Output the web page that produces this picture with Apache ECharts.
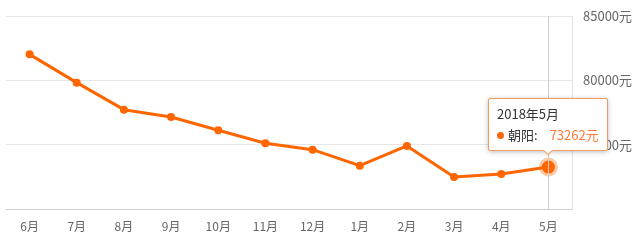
<!DOCTYPE html>
<html>
<head>
<meta charset="utf-8">
<script src="https://cdn.jsdelivr.net/npm/echarts@6/dist/echarts.min.js"></script>
<style>
html,body{margin:0;padding:0;background:#fff;}
#chart{width:640px;height:240px;}
</style>
</head>
<body>
<div id="chart"></div>
<script>
const categories = ['6月','7月','8月','9月','10月','11月','12月','1月','2月','3月','4月','5月'];
const fullDates = ['2017年6月','2017年7月','2017年8月','2017年9月','2017年10月','2017年11月','2017年12月','2018年1月','2018年2月','2018年3月','2018年4月','2018年5月'];
const seriesName = '朝阳';
const prices = [82020, 79820, 77720, 77150, 76120, 75110, 74610, 73370, 74900, 72490, 72720, 73262];
const yTicks = [70000, 75000, 80000, 85000];
const activeIndex = 11;

const mainColor = '#ff6600';
const chart = echarts.init(document.getElementById('chart'), null, {renderer: 'canvas'});
const font = '"Noto Sans CJK SC", "Noto Sans", sans-serif';

const seriesData = prices.map((v, i) => i === activeIndex ? {
  value: v,
  symbolSize: 13,
  itemStyle: {color: mainColor, borderColor: 'rgba(255,102,0,0.35)', borderWidth: 6}
} : v);

chart.setOption({
  animation: false,
  textStyle: {fontFamily: font},
  grid: {left: 6, right: 68, top: 16, bottom: 31},
  tooltip: {
    trigger: 'item',
    triggerOn: 'none',
    alwaysShowContent: true,
    position: 'top',
    backgroundColor: '#fff',
    borderColor: '#f39a5e',
    borderWidth: 1,
    padding: [5, 8, 5, 8],
    extraCssText: 'box-shadow: 0 1px 5px rgba(0,0,0,0.25); border-radius: 2px; margin-top: 3px;',
    textStyle: {fontFamily: font, fontSize: 13, color: '#333', lineHeight: 20},
    formatter: function (p) {
      return '<div style="line-height:20px">' + fullDates[p.dataIndex] + '</div>' +
        '<div style="line-height:21px"><span style="display:inline-block;width:7px;height:7px;border-radius:50%;background:' + mainColor + ';margin-right:4px;vertical-align:1px"></span>' +
        p.seriesName + ':<span style="margin-left:12px;color:#ff7b3a">' + p.value + '元</span></div>';
    }
  },
  xAxis: {
    type: 'category',
    data: categories,
    boundaryGap: true,
    axisLine: {lineStyle: {color: '#d0d0d0', width: 1}},
    axisTick: {alignWithLabel: true, length: 4, lineStyle: {color: '#d0d0d0'}},
    axisLabel: {color: '#666', fontSize: 12, margin: 11, fontFamily: font},
    splitLine: {show: false}
  },
  yAxis: {
    type: 'value',
    position: 'right',
    min: yTicks[0],
    max: yTicks[yTicks.length - 1],
    interval: yTicks[1] - yTicks[0],
    axisLine: {show: true, lineStyle: {color: '#e3e3e3'}},
    axisTick: {show: false},
    axisLabel: {color: '#666', fontSize: 13, margin: 11, showMinLabel: false, fontFamily: font,
      formatter: function (v) { return v + '元'; }},
    splitLine: {lineStyle: {color: '#e6e6e6'}}
  },
  series: [{
    name: seriesName,
    type: 'line',
    data: seriesData,
    symbol: 'circle',
    symbolSize: 8,
    itemStyle: {color: mainColor},
    lineStyle: {color: mainColor, width: 3},
    emphasis: {disabled: true},
    markLine: {
      silent: true,
      symbol: 'none',
      label: {show: false},
      lineStyle: {color: '#cccccc', type: 'solid', width: 1},
      data: [{xAxis: activeIndex}]
    }
  }]
});

chart.dispatchAction({type: 'showTip', seriesIndex: 0, dataIndex: activeIndex});
</script>
</body>
</html>
